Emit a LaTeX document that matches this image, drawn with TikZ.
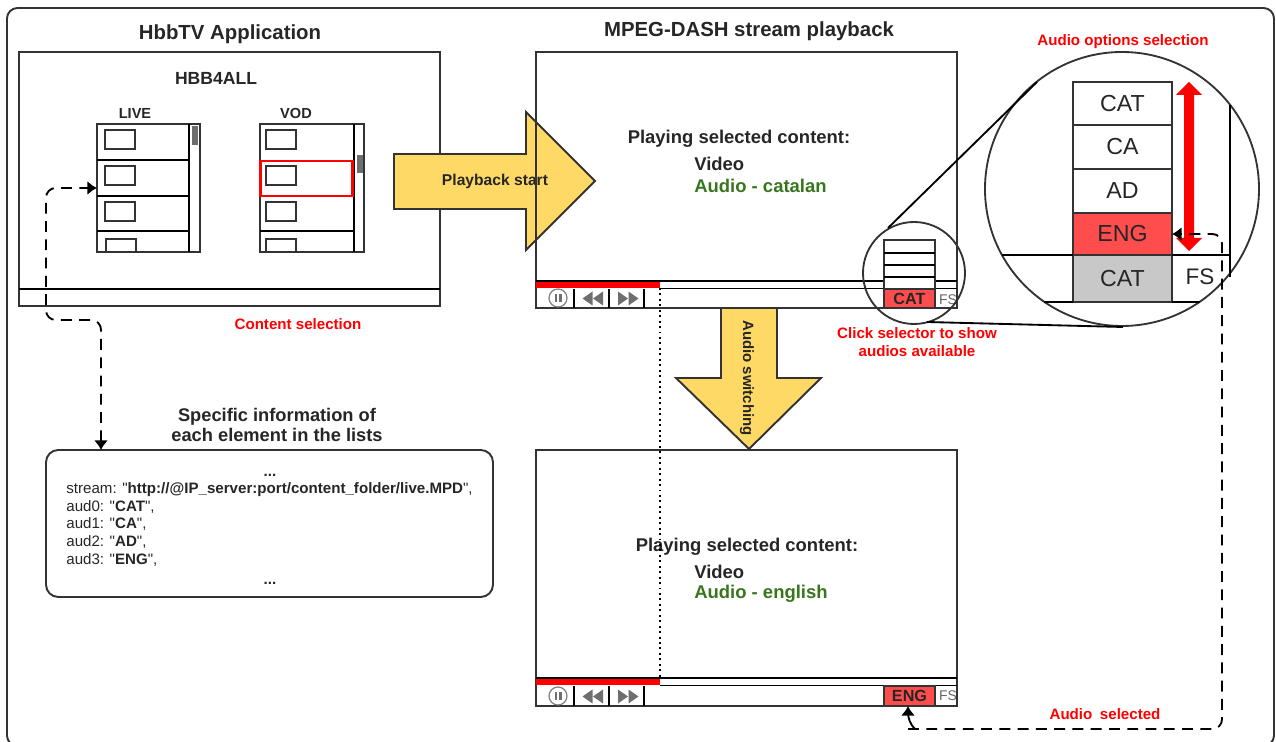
\documentclass[tikz,border=0pt]{standalone}
\usepackage{fontspec}
\setmainfont[Ligatures=TeXOff]{Liberation Sans}
\usetikzlibrary{arrows.meta, calc, positioning}

\definecolor{linegray}{HTML}{333333}
\definecolor{padyellow}{HTML}{FFD966}
\definecolor{softred}{HTML}{FF4D4D}
\definecolor{thumbgray}{HTML}{6E6E6E}
\definecolor{rowgray}{HTML}{C8C8C8}
\definecolor{audiogreen}{HTML}{38761D}

\newcommand{\sizedfont}[2]{\fontsize{#1}{#2}\selectfont}

\tikzset{
  frame/.style={draw=linegray, line width=1.1pt, outer sep=0pt},
  thin frame/.style={draw=linegray, line width=1.05pt, outer sep=0pt},
  blackline/.style={draw=black, line width=1.05pt},
  padarrow/.style={draw=linegray, fill=padyellow, line width=1.1pt, line join=miter},
  dashlink/.style={black, line width=1.05pt, dash pattern=on 6.2pt off 4.2pt, rounded corners=5.5pt},
  heading/.style={font=\sizedfont{11.6}{14}\bfseries, text=black!85, inner sep=0pt},
  smallhead/.style={font=\sizedfont{8.3}{10}\bfseries, text=black!85, inner sep=0pt},
  redlabel/.style={font=\sizedfont{8.6}{10}\bfseries, text=red, inner sep=0pt, align=center},
  bodytext/.style={font=\sizedfont{10.5}{12}\bfseries, text=black!85, inner sep=0pt},
  greentext/.style={font=\sizedfont{10.5}{12}\bfseries, text=audiogreen, inner sep=0pt},
  zoomtext/.style={font=\sizedfont{13.2}{15}, text=black!85, inner sep=0pt},
  seltext/.style={font=\sizedfont{9.2}{11}\bfseries, text=black!85},
  fstext/.style={font=\sizedfont{8}{9}, text=black!60, inner sep=0pt},
  ctrl/.style={fill=thumbgray, draw=none},
}

% the pieces of a player window, #1 = top of its progress bar, #2 = bottom of the window
\newcommand{\playerbar}[2]{
  \fill[red] (536,#1) rectangle (660,#1+7);
  \draw[blackline] (536,#1) -- (957,#1);
  \draw[blackline] (660,#1+7.5) -- (957,#1+7.5);
  \foreach \x in {574, 609, 644} {
    \draw[blackline] (\x,#1+8) -- (\x,#2);
  };
  \draw[gray, line width=0.7pt] (558,#2-10) circle (9);
  \fill[thumbgray] (554.5,#2-14) rectangle (557,#2-6);
  \fill[thumbgray] (559,#2-14) rectangle (561.5,#2-6);
  \fill[ctrl] (592.5,#2-16.5) -- (592.5,#2-2.5) -- (582.5,#2-9.5) -- cycle;
  \fill[ctrl] (603,#2-16.5) -- (603,#2-2.5) -- (593,#2-9.5) -- cycle;
  \fill[ctrl] (618,#2-16.5) -- (618,#2-2.5) -- (628,#2-9.5) -- cycle;
  \fill[ctrl] (628.5,#2-16.5) -- (628.5,#2-2.5) -- (638.5,#2-9.5) -- cycle;
}

\begin{document}
\begin{tikzpicture}[>={Latex[length=5.5pt,width=8pt]}, x=0.02cm, y=-0.02cm]
\useasboundingbox (0,0) rectangle (1276,742);

% outer frame, it runs off the page at the bottom
\draw[linegray, line width=1.1pt, rounded corners=6pt] (7,746) -- (7,8) -- (1274,8) -- (1274,746) -- cycle;

% hbbtv application window
\node[heading] (apptitle) at (230,34) {HbbTV Application};
\node[frame, minimum width=421*0.02cm, minimum height=254*0.02cm, inner sep=0pt, anchor=north west] (appwin) at (19,52) {};
\draw[blackline] (19,289) -- (440,289);
\node[smallhead, font=\sizedfont{10}{12}\bfseries] (appname) at (216,78) {HBB4ALL};
\node[smallhead] (livelabel) at (135,113.5) {LIVE};
\node[smallhead] (vodlabel) at (296,113.5) {VOD};

% the two lists
\draw[thin frame] (97,124) rectangle (200,252);
\draw[thin frame] (260,124) rectangle (364,252);
\draw[blackline] (189,124) -- (189,252);
\draw[blackline] (354,124) -- (354,252);
\foreach \y in {160, 196, 231} {
  \draw[blackline] (97,\y) -- (189,\y);
};
\draw[blackline] (260,231) -- (354,231);
\foreach \y in {130, 166, 202} {
  \draw[thin frame] (105,\y) rectangle ++(30,19);
  \draw[thin frame] (266,\y) rectangle ++(30,19);
};
\draw[thin frame] (106,252) -- (106,239) -- (136,239) -- (136,252);
\draw[thin frame] (266,252) -- (266,239) -- (296,239) -- (296,252);
\fill[thumbgray] (192,126) rectangle (198,145);
\fill[thumbgray] (357,155) rectangle (363,173);
\draw[red, line width=1.3pt] (260.5,161) rectangle (352.5,196);
\coordinate (liveport) at (97,188);
\node[redlabel] (contentsel) at (298,324.5) {Content selection};

% playback start arrow
\draw[padarrow] (394,154) -- (526,154) -- (526,112) -- (595,181) -- (526,250) -- (526,209) -- (394,209) -- cycle;
\node[smallhead, font=\sizedfont{8.9}{10}\bfseries] (playstart) at (495,181) {Playback start};

% first player window
\node[heading] (dashtitle) at (749,31.5) {MPEG-DASH stream playback};
\node[frame, minimum width=421*0.02cm, minimum height=256*0.02cm, inner sep=0pt, anchor=north west] (playera) at (536,52) {};
\playerbar{281}{308}
\node[bodytext] (playinga) at (739,139) {Playing selected content:};
\node[bodytext, anchor=west] (videoa) at (694,163.5) {Video};
\node[greentext, anchor=west] (audioa) at (694,185.5) {Audio - catalan};

% audio switching arrow
\draw[padarrow] (721,308) -- (777,308) -- (777,378) -- (821,378) -- (749,449) -- (676,378) -- (721,378) -- cycle;
\node[smallhead, font=\sizedfont{8.5}{10}\bfseries, rotate=-90] (switching) at (747,378) {Audio switching};

% second player window
\node[frame, minimum width=421*0.02cm, minimum height=256*0.02cm, inner sep=0pt, anchor=north west] (playerb) at (536,450) {};
\playerbar{678}{706}
\node[bodytext] (playingb) at (747,547) {Playing selected content:};
\node[bodytext, anchor=west] (videob) at (694,571.5) {Video};
\node[greentext, anchor=west] (audiob) at (694,594) {Audio - english};
\draw[black, line width=1.1pt, dotted] (660,288) -- (660,678);

% selector of the first window with its list
\node[thin frame, fill=softred, seltext, minimum width=51*0.02cm, minimum height=19*0.02cm, inner sep=0pt, anchor=north west] (selcat) at (884,289) {CAT};
\draw[thin frame, fill=white] (884,240) rectangle (935,289);
\foreach \y in {253, 265, 277} {
  \draw[blackline] (884,\y) -- (935,\y);
};
\node[fstext] (fsa) at (948,300) {FS};
\node[draw=linegray, line width=1.05pt, circle, minimum size=102*0.02cm, inner sep=0pt, outer sep=0pt] (smallzoom) at (914,273) {};
\node[redlabel] (clicksel) at (917,342) {Click selector to show\\audios available};

% selector of the second window
\node[thin frame, fill=softred, seltext, minimum width=51*0.02cm, minimum height=20*0.02cm, inner sep=0pt, anchor=north west] (seleng) at (884,686) {ENG};
\node[fstext] (fsb) at (948,696) {FS};
\coordinate (engport) at (908,706);
\node[redlabel] (audiosel) at (1105,714.5) {Audio\,\,\,selected};

% the enlarged selector
\node[redlabel] (options) at (1123,41.5) {Audio options selection};
\node[draw=linegray, line width=1.05pt, circle, minimum size=274*0.02cm, inner sep=0pt, outer sep=0pt] (bigzoom) at (1122,189) {};
\draw[blackline] (888,228) -- (1037,82);
\draw[blackline] (927,322) -- (1123,327);
\foreach \y/\h/\lab/\col in {82/43/CAT/white, 125/44/CA/white, 169/44/AD/white, 213/42/ENG/softred, 255/47/CAT/rowgray} {
  \node[thin frame, fill=\col, zoomtext, minimum width=99*0.02cm, minimum height=\h*0.02cm, anchor=north west] (row\lab\y) at (1073,\y) {\lab};
};
\draw[blackline] (1002,255) -- (1073,255);
\draw[blackline] (1172,255) -- (1230,255);
\draw[blackline] (1044,302) -- (1073,302);
\draw[blackline] (1172,302) -- (1200,302);
\draw[blackline] (1230,105) -- (1230,277);
\node[zoomtext, font=\sizedfont{12.8}{14}] (fszoom) at (1200,277) {FS};
\fill[red] (1189,82) -- (1202,95) -- (1194,95) -- (1194,238) -- (1202,238) -- (1189,251) -- (1176,238) -- (1184,238) -- (1184,95) -- (1176,95) -- cycle;
\coordinate (engzoomport) at (1172,234);

% information box of the list elements
\node[heading, font=\sizedfont{10.4}{11.4}\bfseries, align=center] (infotitle) at (277,425) {Specific information of\\each element in the lists};
\node[draw=linegray, line width=1.1pt, rounded corners=7pt, minimum width=447*0.02cm, minimum height=147*0.02cm, inner sep=0pt, outer sep=0pt, anchor=north west] (infobox) at (46,450) {};
\node[font=\sizedfont{8.6}{10}\bfseries, text=black!85, inner sep=0pt, anchor=base] (dotstop) at (270,476.5) {...};
\node[font=\sizedfont{8.6}{10}, text=black!85, inner sep=0pt, anchor=north west, align=left] (infotext) at (66,482.5) {stream: "\textbf{http://@IP\_server:port/content\_folder/live.MPD}",\\
  aud0: "\textbf{CAT}",\\
  aud1: "\textbf{CA}",\\
  aud2: "\textbf{AD}",\\
  aud3: "\textbf{ENG}",};
\node[font=\sizedfont{8.6}{10}\bfseries, text=black!85, inner sep=0pt, anchor=base] (dotsbottom) at (270,584.5) {...};
\coordinate (infotop) at (101,450);

% dashed links
\draw[dashlink, <->] (infotop) -- (101,320) -- (46,320) -- (46,188) -- (liveport);
\draw[dashlink, ->] (908,729) -- (1222,729) -- (1222,234) -- (engzoomport);
\draw[black, line width=1.05pt, ->, rounded corners=5pt] (915,729) -- (908,722) -- (engport);

\end{tikzpicture}
\end{document}
